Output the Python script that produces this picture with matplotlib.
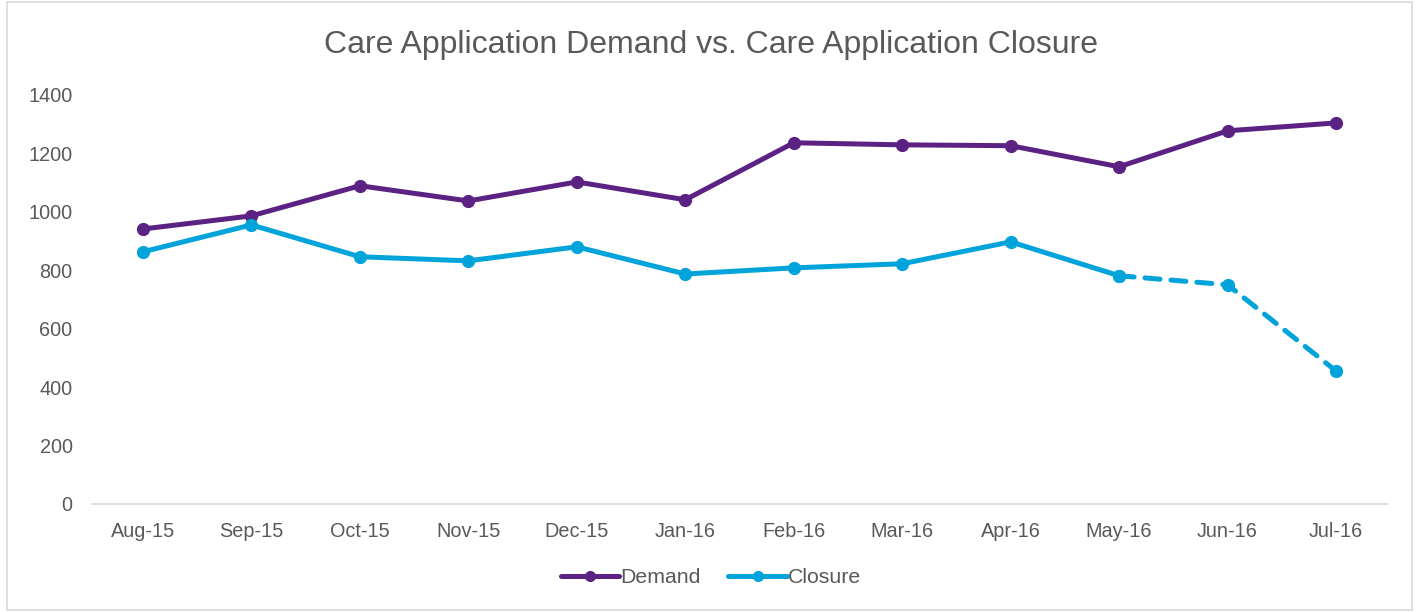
import matplotlib.pyplot as plt
from matplotlib.lines import Line2D
from matplotlib.patches import Rectangle

plt.rcParams['font.family'] = ['Liberation Sans', 'DejaVu Sans']

months = ['Aug-15', 'Sep-15', 'Oct-15', 'Nov-15', 'Dec-15', 'Jan-16',
          'Feb-16', 'Mar-16', 'Apr-16', 'May-16', 'Jun-16', 'Jul-16']
demand = [941, 986, 1089, 1037, 1102, 1041, 1236, 1229, 1226, 1154, 1277, 1304]
closure = [863, 955, 846, 832, 880, 787, 808, 822, 897, 781, 750, 455]
solid_until = 9  # closure is dashed from May-16 onwards

purple = '#5B2283'
blue = '#00A3DA'
grey = '#595959'

fig = plt.figure(figsize=(14.22, 6.12), dpi=100)
ax = fig.add_axes([0.0647, 0.1765, 0.9107, 0.6685])

x = list(range(len(months)))
ax.plot(x, demand, color=purple, lw=3.6, marker='o', ms=8.5, solid_capstyle='round')
ax.plot(x[:solid_until + 1], closure[:solid_until + 1], color=blue, lw=3.6,
        marker='o', ms=8.5, solid_capstyle='round')
ax.plot(x[solid_until:], closure[solid_until:], color=blue, lw=3.6, ls=(0, (3, 2.2)),
        marker='o', ms=8.5, dash_capstyle='round')

ax.set_xlim(-0.47, len(months) - 0.53)
ax.set_ylim(0, 1400)
ax.set_yticks(range(0, 1401, 200))
ax.set_xticks(x)
ax.set_xticklabels(months)
ax.tick_params(axis='both', length=0, labelsize=14.3, colors=grey)
ax.tick_params(axis='x', pad=13)
ax.tick_params(axis='y', pad=14)
for s in ['top', 'right', 'left']:
    ax.spines[s].set_visible(False)
ax.spines['bottom'].set_color('#D9D9D9')
ax.spines['bottom'].set_linewidth(1.2)

fig.text(0.5, 0.926, 'Care Application Demand vs. Care Application Closure',
         ha='center', va='center', fontsize=23, color=grey)

handles = [Line2D([], [], color=purple, lw=3.6, marker='o', ms=7, solid_capstyle='round'),
           Line2D([], [], color=blue, lw=3.6, marker='o', ms=7, solid_capstyle='round')]
fig.legend(handles, ['Demand', 'Closure'], loc='center', bbox_to_anchor=(0.5, 0.056),
           ncol=2, frameon=False, fontsize=15.3, handlelength=2.75, handletextpad=0.05,
           columnspacing=1.3, labelcolor=grey)

fig.add_artist(Rectangle((0.005, 0.003), 0.988, 0.994, transform=fig.transFigure,
                         fill=False, edgecolor='#D9D9D9', lw=1.2))

fig.savefig('out.png', dpi=100)
